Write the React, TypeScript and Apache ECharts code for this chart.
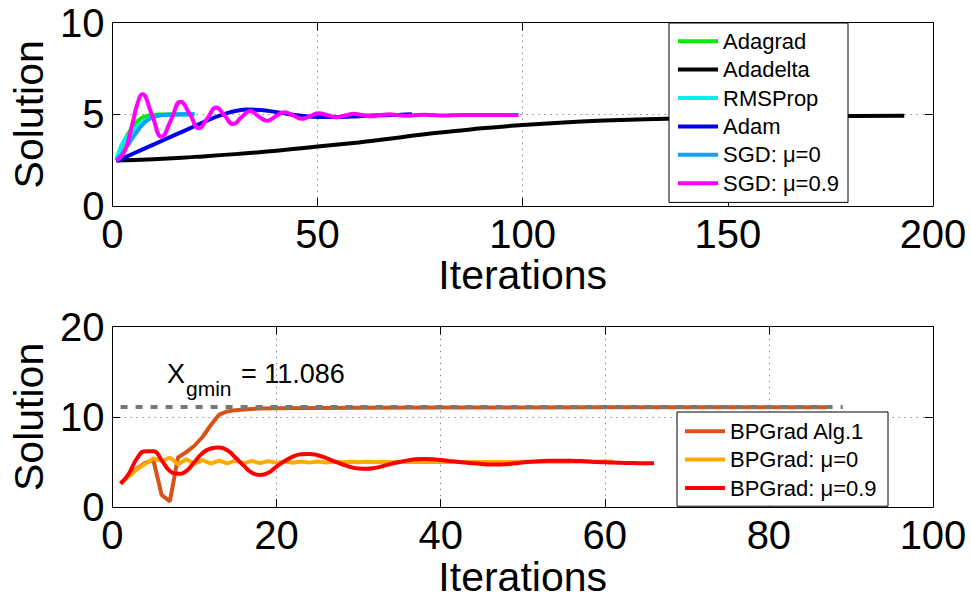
import React, { useEffect, useRef } from "react";
import * as echarts from "echarts";

const FONT = "'Liberation Sans', Arial, Helvetica, sans-serif";

// ---------- top panel ----------
const topXTicks = [0, 50, 100, 150, 200];
const topYTicks = [0, 5, 10];

const adagrad = [[1, 2.5], [2, 3.1], [3, 3.6], [4, 4.0], [5, 4.35], [6, 4.6], [7, 4.78], [8, 4.88], [9, 4.94], [10, 4.97], [12, 4.99], [15, 5.0], [20, 5.0]];
const adadelta = [[1, 2.48], [10, 2.55], [20, 2.68], [30, 2.83], [40, 3.02], [50, 3.24], [60, 3.47], [65, 3.6], [70, 3.74], [78, 3.97], [85, 4.12], [90, 4.24], [100, 4.42], [110, 4.56], [120, 4.66], [130, 4.73], [140, 4.78], [150, 4.82], [160, 4.86], [170, 4.89], [180, 4.91], [193, 4.92]];
const rmsprop = [[1, 2.5], [2, 3.2], [3, 3.6], [4, 3.85], [5, 4.1], [6, 4.3], [7, 4.5], [8, 4.65], [9, 4.78], [10, 4.86], [11, 4.92], [12, 4.95], [14, 4.98], [17, 4.99], [20, 5.0]];
const adam = [[1, 2.45], [5, 2.85], [10, 3.35], [15, 3.85], [20, 4.35], [24, 4.75], [27, 5.0], [30, 5.18], [33, 5.26], [36, 5.24], [40, 5.12], [44, 4.98], [48, 4.88], [52, 4.85], [56, 4.86], [60, 4.9], [65, 4.95], [70, 4.98], [73, 5.0]];
const sgd0 = [[1, 2.5], [2, 2.75], [3, 3.05], [4, 3.4], [5, 3.75], [6, 4.05], [7, 4.35], [8, 4.58], [9, 4.75], [10, 4.86], [11, 4.92], [12, 4.96], [14, 4.98], [17, 5.0], [20, 5.0]];
const sgd09 = [[1, 2.48], [3, 3.0], [5, 4.6], [6, 5.5], [7.3, 6.09], [9.6, 5.0], [12, 3.78], [14.3, 4.7], [16.6, 5.69], [18.9, 5.0], [21.1, 4.24], [23.2, 4.8], [25.3, 5.38], [27.3, 4.95], [29.4, 4.47], [31.5, 4.85], [33.6, 5.18], [35.6, 4.9], [37.7, 4.65], [39.8, 4.9], [42, 5.11], [44, 4.95], [46.3, 4.76], [48.3, 4.92], [50.3, 5.06], [52.5, 4.95], [54.6, 4.84], [56.7, 4.94], [58.9, 5.03], [61, 4.96], [63.2, 4.9], [65.3, 4.96], [67.5, 5.0], [69.6, 4.96], [71.8, 4.92], [74, 4.96], [76, 4.98], [78, 4.96], [80.5, 4.94], [85, 4.96], [90, 4.96], [95, 4.97], [99, 4.96]];

const topNames = ["Adagrad", "Adadelta", "RMSProp", "Adam", "SGD: μ=0", "SGD: μ=0.9"];
const topColors = ["#00ee00", "#000000", "#00f0f0", "#0000ee", "#10a0ff", "#ff00ff"];
const topData = [adagrad, adadelta, rmsprop, adam, sgd0, sgd09];
const topSmooth = [true, true, true, true, true, true];

// ---------- bottom panel ----------
const botXTicks = [0, 20, 40, 60, 80, 100];
const botYTicks = [0, 10, 20];

const bpAlg1 = [[1, 2.61], [2, 3.5], [3, 4.3], [4, 4.9], [5, 5.2], [6, 1.35], [7, 0.62], [8, 5.5], [9, 6.1], [10, 6.8], [11, 7.8], [12, 9.1], [13, 10.25], [14, 10.6], [15, 10.75], [16, 10.83], [17, 10.88], [18, 10.92], [20, 10.96], [25, 11.0], [30, 11.02], [40, 11.04], [50, 11.05], [60, 11.06], [70, 11.07], [80, 11.08], [87, 11.08]];
const bpMu0 = [[1, 2.61], [2, 3.4], [3, 4.2], [4, 4.8], [5, 5.4], [6, 5.1], [7, 5.5], [8, 4.75], [9, 5.3], [10, 4.8], [11, 5.2], [12, 4.82], [13, 5.15], [14, 4.85], [15, 5.15], [16, 4.85], [17, 5.12], [18, 4.88], [19, 5.1], [20, 4.9], [21, 5.08], [22, 4.92], [23, 5.06], [24, 4.93], [25, 5.05], [26, 4.95], [27, 5.04], [28, 4.96], [29, 5.03], [30, 4.97], [31, 5.02], [32, 4.98], [33, 5.02], [34, 4.98], [35, 5.01], [40, 5.0], [45, 5.0], [50, 5.02], [55, 5.04], [61, 5.05]];
const bpMu09 = [[1, 2.61], [2, 3.7], [3, 5.4], [4, 6.2], [5, 6.2], [6, 5.2], [7, 4.0], [8, 3.7], [9, 4.0], [10, 5.0], [11, 6.0], [12, 6.5], [13, 6.6], [14, 6.3], [15, 5.5], [16, 4.6], [17, 3.8], [18, 3.55], [19, 3.8], [20, 4.5], [21, 5.1], [22, 5.6], [23, 5.85], [24, 5.9], [25, 5.75], [26, 5.45], [27, 5.1], [28, 4.75], [29, 4.45], [30, 4.28], [31, 4.24], [32, 4.35], [33, 4.55], [34, 4.8], [35, 5.0], [36, 5.18], [37, 5.3], [38, 5.33], [39, 5.3], [40, 5.22], [41, 5.12], [42, 5.02], [43, 4.94], [44, 4.85], [45, 4.78], [46, 4.73], [47, 4.72], [48, 4.76], [49, 4.85], [50, 4.95], [51, 5.03], [52, 5.09], [53, 5.13], [54, 5.15], [55, 5.15], [56, 5.13], [57, 5.1], [58, 5.05], [59, 5.0], [60, 4.97], [61, 4.94], [62, 4.91], [63, 4.89], [64, 4.87], [65, 4.86], [66, 4.86]];
const xGmin = 11.086;
const gminRange = [1, 89];

const botNames = ["BPGrad Alg.1", "BPGrad: μ=0", "BPGrad: μ=0.9"];
const botColors = ["#d95319", "#ffaa00", "#ff0000"];
const botData = [bpAlg1, bpMu0, bpMu09];
const botSmooth = [false, false, true];

const AXIS_NAME_SIZE = 41;
const TICK_SIZE = 40;

function xAxes(grid: number, ticks: number[], name: string) {
  const base = {
    type: "value",
    gridIndex: grid,
    min: ticks[0],
    max: ticks[ticks.length - 1],
    interval: ticks[1] - ticks[0],
  };
  return [
    {
      ...base,
      position: "bottom",
      name,
      nameLocation: "middle",
      nameGap: 44,
      nameTextStyle: { fontFamily: FONT, fontSize: AXIS_NAME_SIZE, color: "#000" },
      axisLine: { show: true, onZero: false, lineStyle: { color: "#000", width: 1 } },
      axisTick: { show: true, inside: true, length: 8, lineStyle: { color: "#000", width: 1 } },
      axisLabel: { fontFamily: FONT, fontSize: TICK_SIZE, color: "#000", margin: 8, showMinLabel: true, showMaxLabel: true },
      splitLine: { show: true, lineStyle: { color: "#8a8a8a", type: [1.5, 4.5], width: 1 } },
    },
    {
      ...base,
      position: "top",
      axisLine: { show: true, onZero: false, lineStyle: { color: "#000", width: 1 } },
      axisTick: { show: true, inside: true, length: 8, lineStyle: { color: "#000", width: 1 } },
      axisLabel: { show: false },
      splitLine: { show: false },
    },
  ];
}

function yAxes(grid: number, ticks: number[], name: string) {
  const base = {
    type: "value",
    gridIndex: grid,
    min: ticks[0],
    max: ticks[ticks.length - 1],
    interval: ticks[1] - ticks[0],
  };
  return [
    {
      ...base,
      position: "left",
      name,
      nameLocation: "middle",
      nameRotate: 90,
      nameGap: 58,
      nameTextStyle: { fontFamily: FONT, fontSize: AXIS_NAME_SIZE, color: "#000" },
      axisLine: { show: true, onZero: false, lineStyle: { color: "#000", width: 1 } },
      axisTick: { show: true, inside: true, length: 8, lineStyle: { color: "#000", width: 1 } },
      axisLabel: { fontFamily: FONT, fontSize: TICK_SIZE, color: "#000", margin: 8, showMinLabel: true, showMaxLabel: true },
      splitLine: { show: true, lineStyle: { color: "#8a8a8a", type: [1.5, 4.5], width: 1 } },
    },
    {
      ...base,
      position: "right",
      axisLine: { show: true, onZero: false, lineStyle: { color: "#000", width: 1 } },
      axisTick: { show: true, inside: true, length: 8, lineStyle: { color: "#000", width: 1 } },
      axisLabel: { show: false },
      splitLine: { show: false },
    },
  ];
}

function legendFor(names: string[], left: number, top: number, padding: number[], textWidth: number) {
  return {
    orient: "vertical",
    left,
    top,
    padding,
    itemGap: 0,
    itemWidth: 40,
    itemHeight: 4,
    icon: "rect",
    backgroundColor: "#fff",
    borderColor: "#000",
    borderWidth: 1,
    borderRadius: 0,
    selectedMode: false,
    z: 10,
    textStyle: { fontFamily: FONT, fontSize: 22, color: "#000", lineHeight: 28.4, width: textWidth },
    data: names,
  };
}

export default function App() {
  const ref = useRef<HTMLDivElement>(null);
  useEffect(() => {
    if (!ref.current) return;
    const chart = echarts.init(ref.current, null, { renderer: "svg" });
    const series: any[] = [];
    topNames.forEach((n, i) => {
      series.push({
        type: "line",
        name: n,
        xAxisIndex: 0,
        yAxisIndex: 0,
        data: topData[i],
        showSymbol: false,
        smooth: topSmooth[i],
        lineStyle: { color: topColors[i], width: 4 },
        itemStyle: { color: topColors[i] },
        z: 2 + i * 0.01,
      });
    });
    botNames.forEach((n, i) => {
      series.push({
        type: "line",
        name: n,
        xAxisIndex: 2,
        yAxisIndex: 2,
        data: botData[i],
        showSymbol: false,
        smooth: botSmooth[i],
        lineStyle: { color: botColors[i], width: 4 },
        itemStyle: { color: botColors[i] },
        z: 2 + i * 0.01,
      });
    });
    series.push({
      type: "line",
      name: "Xgmin",
      xAxisIndex: 2,
      yAxisIndex: 2,
      data: [[gminRange[0], xGmin], [gminRange[1], xGmin]],
      showSymbol: false,
      lineStyle: { color: "#777777", width: 4, type: [7, 8] },
      itemStyle: { color: "#777777" },
      z: 3,
    });

    chart.setOption({
      animation: false,
      backgroundColor: "#fff",
      grid: [
        { left: 110, top: 22.7, width: 823, height: 183.3, containLabel: false },
        { left: 110, top: 326.7, width: 823, height: 184, containLabel: false },
      ],
      xAxis: [...xAxes(0, topXTicks, "Iterations"), ...xAxes(1, botXTicks, "Iterations")],
      yAxis: [...yAxes(0, topYTicks, "Solution"), ...yAxes(1, botYTicks, "Solution")],
      legend: [
        legendFor(topNames, 669, 23, [4, 8, 5, 9], 117),
        legendFor(botNames, 677, 412, [5, 11, 4, 8], 147),
      ],
      graphic: [
        { type: "text", left: 167, top: 374 - 13.5, z: 20, style: { text: "X", font: `27px ${FONT}`, fill: "#000" } },
        { type: "text", left: 186, top: 388.7 - 10.5, z: 20, style: { text: "gmin", font: `21px ${FONT}`, fill: "#000" } },
        { type: "text", left: 241, top: 374 - 13.5, z: 20, style: { text: "= " + xGmin.toFixed(3), font: `27px ${FONT}`, fill: "#000" } },
      ],
      series,
    });
    return () => chart.dispose();
  }, []);
  return (
    <div
      ref={ref}
      style={{ position: "absolute", left: 0, top: 0, width: 971, height: 598, background: "#fff" }}
    />
  );
}
